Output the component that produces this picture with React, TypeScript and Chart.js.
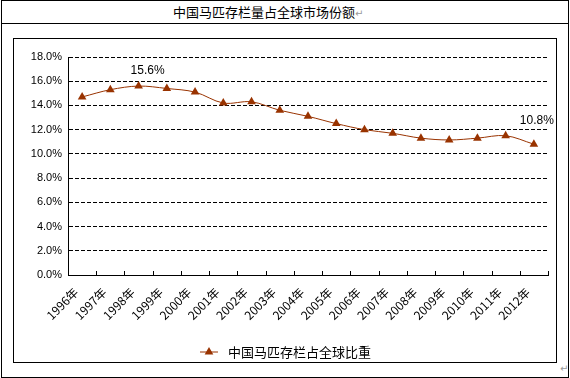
import React, { useEffect, useRef } from "react";
import { Chart, registerables } from "chart.js";

Chart.register(...registerables);

const TITLE = "中国马匹存栏量占全球市场份额";
const SERIES_NAME = "中国马匹存栏占全球比重";
const YEARS = [
  "1996年", "1997年", "1998年", "1999年", "2000年", "2001年", "2002年", "2003年", "2004年",
  "2005年", "2006年", "2007年", "2008年", "2009年", "2010年", "2011年", "2012年",
];
const SHARE = [14.7, 15.3, 15.6, 15.4, 15.1, 14.2, 14.3, 13.6, 13.1, 12.5, 12.0, 11.7, 11.3, 11.15, 11.3, 11.5, 10.8];
const LABELED_YEARS = ["1998年", "2012年"];
const Y_MIN = 0;
const Y_MAX = 18;
const Y_STEP = 2;

const BROWN = "#993300";
const FONT = '"Noto Sans CJK SC", "DejaVu Sans", sans-serif';
const NUM_FONT = '"Liberation Sans", "DejaVu Sans", sans-serif';

const innerTicks = {
  id: "innerTicks",
  afterDraw(chart: any) {
    const s = chart.scales.x;
    const n = s.ticks.length;
    const ctx = chart.ctx;
    ctx.save();
    ctx.strokeStyle = "#000";
    ctx.lineWidth = 1;
    const step = (s.right - s.left) / n;
    for (let i = 0; i <= n; i++) {
      const x = Math.round(s.left + i * step) + 0.5;
      ctx.beginPath();
      ctx.moveTo(x, s.top);
      ctx.lineTo(x, s.top - 4);
      ctx.stroke();
    }
    ctx.restore();
  },
};

const pointLabels = {
  id: "pointLabels",
  afterDatasetsDraw(chart: any) {
    const meta = chart.getDatasetMeta(0);
    const ctx = chart.ctx;
    ctx.save();
    ctx.fillStyle = "#000";
    ctx.font = `12px ${NUM_FONT}`;
    ctx.textAlign = "center";
    ctx.textBaseline = "middle";
    YEARS.forEach((y, i) => {
      if (!LABELED_YEARS.includes(y)) return;
      const p = meta.data[i];
      const last = i === YEARS.length - 1;
      ctx.fillText(SHARE[i].toFixed(1) + "%", p.x + (last ? 3 : 9), p.y - (last ? 24 : 15));
    });
    ctx.restore();
  },
};

const bottomLegend = {
  id: "bottomLegend",
  afterDraw(chart: any) {
    const ctx = chart.ctx;
    const cx = 195;
    const cy = chart.height - 10;
    ctx.save();
    ctx.strokeStyle = BROWN;
    ctx.lineWidth = 1;
    ctx.beginPath();
    ctx.moveTo(cx - 9, cy);
    ctx.lineTo(cx + 9, cy);
    ctx.stroke();
    ctx.fillStyle = BROWN;
    ctx.beginPath();
    const r = 5;
    ctx.moveTo(cx, cy - r);
    ctx.lineTo(cx + r * 0.866, cy + r * 0.5);
    ctx.lineTo(cx - r * 0.866, cy + r * 0.5);
    ctx.closePath();
    ctx.fill();
    ctx.fillStyle = "#000";
    ctx.font = `13px ${FONT}`;
    ctx.textAlign = "left";
    ctx.textBaseline = "middle";
    ctx.fillText(SERIES_NAME, cx + 19, cy);
    ctx.restore();
  },
};

function ShareChart() {
  const ref = useRef<HTMLCanvasElement | null>(null);
  useEffect(() => {
    document.body.style.margin = "0";
    const canvas = ref.current;
    if (!canvas) return;
    const chart = new Chart(canvas, {
      type: "line",
      data: {
        labels: YEARS,
        datasets: [
          {
            label: SERIES_NAME,
            data: SHARE,
            borderColor: BROWN,
            backgroundColor: BROWN,
            borderWidth: 1,
            tension: 0.35,
            pointStyle: "triangle",
            pointRadius: 5,
            pointBorderWidth: 0,
            pointBackgroundColor: BROWN,
            pointBorderColor: BROWN,
            fill: false,
          },
        ],
      },
      options: {
        animation: false,
        responsive: false,
        maintainAspectRatio: false,
        layout: { padding: { left: 0, top: 18, right: 8, bottom: 0 } },
        plugins: {
          legend: { display: false },
          tooltip: { enabled: false },
        },
        scales: {
          x: {
            offset: true,
            grid: { display: false, drawTicks: false },
            border: { display: true, color: "#000", width: 1 },
            ticks: {
              color: "#000",
              font: { size: 12, family: FONT },
              minRotation: 45,
              maxRotation: 45,
              autoSkip: false,
              padding: 10,
              labelOffset: -6,
            },
            afterFit: (s: any) => {
              s.height = 87;
            },
          },
          y: {
            min: Y_MIN,
            max: Y_MAX,
            ticks: {
              stepSize: Y_STEP,
              color: "#000",
              font: { size: 11, family: NUM_FONT },
              padding: 6,
              callback: (v: any) => Number(v).toFixed(1) + "%",
            },
            grid: { color: "#000", drawTicks: false, lineWidth: 1 },
            border: { display: true, color: "#000", width: 1, dash: [4, 2] },
            afterFit: (s: any) => {
              s.width = 54;
            },
          },
        },
      },
      plugins: [innerTicks, pointLabels, bottomLegend],
    } as any);
    return () => chart.destroy();
  }, []);
  return <canvas ref={ref} width={542} height={323} style={{ display: "block" }} />;
}

export default function App() {
  return (
    <div style={{ position: "relative", width: 570, height: 378, background: "#fff", fontFamily: FONT, overflow: "hidden" }}>
      <div style={{ position: "absolute", left: 1, top: 0, width: 566, height: 376, border: "1px solid #000" }} />
      <div style={{ position: "absolute", left: 1, top: 23, width: 568, height: 1, background: "#000" }} />
      <div
        style={{
          position: "absolute",
          left: 173,
          top: 3,
          fontSize: 13,
          lineHeight: "18px",
          color: "#000",
          whiteSpace: "nowrap",
        }}
      >
        {TITLE}
        <span style={{ color: "#999", fontSize: 10, fontFamily: '"DejaVu Sans", sans-serif' }}>↵</span>
      </div>
      <div style={{ position: "absolute", left: 13, top: 38, width: 542, height: 323, border: "1px solid #000" }}>
        <ShareChart />
      </div>
      <div
        style={{
          position: "absolute",
          left: 560,
          top: 363,
          fontSize: 10,
          color: "#999",
          fontFamily: '"DejaVu Sans", sans-serif',
        }}
      >
        ↵
      </div>
    </div>
  );
}
